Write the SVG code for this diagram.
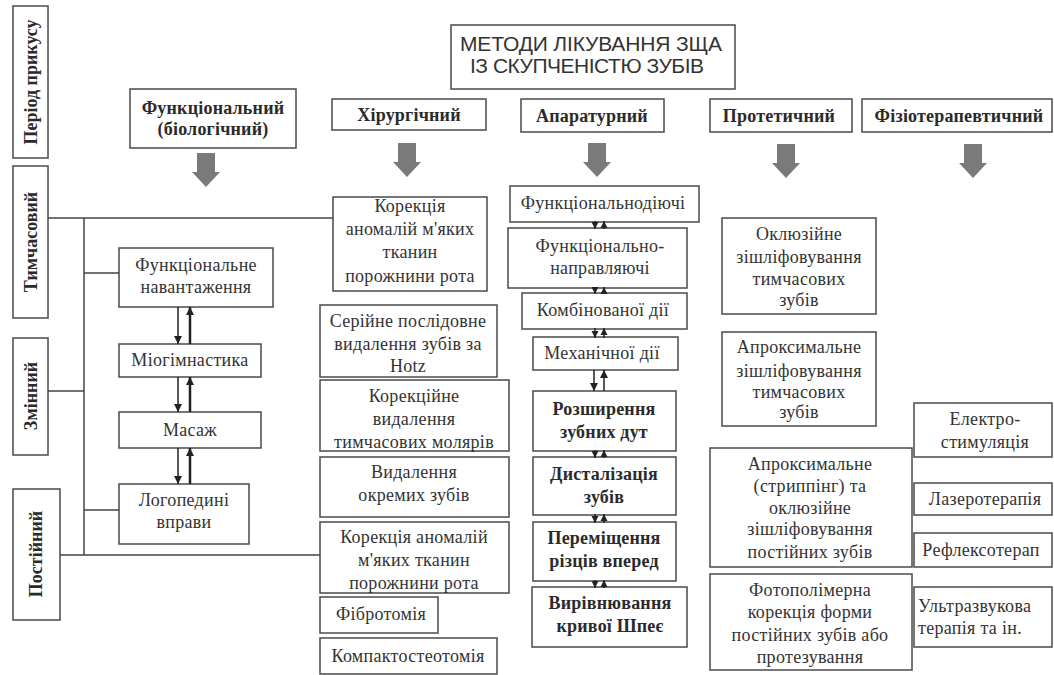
<svg xmlns="http://www.w3.org/2000/svg" width="1054" height="675" viewBox="0 0 1054 675">
<style>
.b{fill:#fff;stroke:#4a4a4a;stroke-width:1.5}
.t{font-family:"Liberation Serif",serif;font-size:18px;fill:#333;text-anchor:middle;letter-spacing:0.3px}
.tb{font-family:"Liberation Serif",serif;font-size:18px;font-weight:bold;fill:#2a2a2a;text-anchor:middle;letter-spacing:0.2px}
.tl{text-anchor:start}
.v{font-family:"Liberation Serif",serif;font-size:18px;font-weight:bold;fill:#2a2a2a;text-anchor:middle}
.ti{font-family:"Liberation Sans",Arial,sans-serif;font-size:21px;fill:#333;text-anchor:middle}
.c{stroke:#444;stroke-width:1.5;fill:none}
.ca{stroke:#222;stroke-width:1.5;fill:none;marker-end:url(#ah)}
.cb{stroke:#222;stroke-width:2.5;fill:none;marker-end:url(#ah)}
.cs{stroke:#222;stroke-width:1.5;fill:none;marker-end:url(#as)}
.big{fill:#7a7a7a}
</style>
<defs>
<marker id="ah" viewBox="0 0 10 10" refX="10" refY="5" markerWidth="8" markerHeight="8" markerUnits="userSpaceOnUse" orient="auto">
<path d="M0,0 L10,5 L0,10 z" fill="#222"/>
</marker>
<marker id="as" viewBox="0 0 10 10" refX="10" refY="5" markerWidth="7" markerHeight="8" markerUnits="userSpaceOnUse" orient="auto">
<path d="M0,0 L10,5 L0,10 z" fill="#222"/>
</marker>
<path id="bigarrow" d="M-9,0 H9 V19 H14 L0,34 L-14,19 H-9 Z"/>
</defs>
<rect width="1054" height="675" fill="#fff"/>

<g id="period">
<rect class="b" x="13" y="6" width="35" height="152"/>
<text class="v" transform="translate(37,82) rotate(-90)">Період прикусу</text>
</g>
<g id="tymchasovyi">
<rect class="b" x="13" y="166" width="35" height="152"/>
<text class="v" transform="translate(37,242) rotate(-90)">Тимчасовий</text>
</g>
<g id="zminnyi">
<rect class="b" x="13" y="338" width="35" height="117"/>
<text class="v" transform="translate(37,396) rotate(-90)">Змінний</text>
</g>
<g id="postiinyi">
<rect class="b" x="13" y="489" width="47" height="131"/>
<text class="v" transform="translate(42,554) rotate(-90)">Постійний</text>
</g>

<g id="title">
<rect class="b" x="451" y="25" width="284" height="64"/>
<text class="ti" x="591" y="51" textLength="262">МЕТОДИ ЛІКУВАННЯ ЗЩА</text>
<text class="ti" x="587" y="73" textLength="234">ІЗ СКУПЧЕНІСТЮ ЗУБІВ</text>
</g>

<g id="funktsionalnyi">
<rect class="b" x="130" y="89" width="166" height="59"/>
<text class="tb" x="213" y="114">Функціональний</text>
<text class="tb" x="213" y="135">(біологічний)</text>
</g>
<g id="khirurhichnyi">
<rect class="b" x="332" y="99" width="154" height="31"/>
<text class="tb" x="409" y="121">Хірургічний</text>
</g>
<g id="aparaturnyi">
<rect class="b" x="521" y="99" width="143" height="33"/>
<text class="tb" x="592" y="122">Апаратурний</text>
</g>
<g id="protetychnyi">
<rect class="b" x="710" y="99" width="142" height="33"/>
<text class="tb" x="779" y="122">Протетичний</text>
</g>
<g id="fizio">
<rect class="b" x="862" y="99" width="190" height="33"/>
<text class="tb" x="959" y="122">Фізіотерапевтичний</text>
</g>

<g id="funk-navantazhennia">
<rect class="b" x="119" y="248" width="154" height="59"/>
<text class="t" x="196" y="271">Функціональне</text>
<text class="t" x="196" y="293">навантаження</text>
</g>
<g id="miohimnastyka">
<rect class="b" x="119" y="344" width="142" height="33"/>
<text class="t" x="190" y="366">Міогімнастика</text>
</g>
<g id="masazh">
<rect class="b" x="119" y="412" width="142" height="36"/>
<text class="t" x="190" y="436">Масаж</text>
</g>
<g id="lohopedychni">
<rect class="b" x="119" y="484" width="130" height="60"/>
<text class="t" x="184" y="506">Логопедині</text>
<text class="t" x="184" y="528">вправи</text>
</g>

<g id="korektsiia-1">
<rect class="b" x="333" y="197" width="154" height="94"/>
<text class="t" x="410" y="212">Корекція</text>
<text class="t" x="410" y="235">аномалій м'яких</text>
<text class="t" x="410" y="258">тканин</text>
<text class="t" x="410" y="282">порожнини рота</text>
</g>
<g id="seriine">
<rect class="b" x="320" y="305" width="177" height="72"/>
<text class="t" x="408" y="327">Серійне послідовне</text>
<text class="t" x="408" y="350">видалення зубів за</text>
<text class="t" x="408" y="372">Hotz</text>
</g>
<g id="korektsiine">
<rect class="b" x="320" y="380" width="189" height="71"/>
<text class="t" x="414" y="402">Корекційне</text>
<text class="t" x="414" y="425">видалення</text>
<text class="t" x="414" y="448">тимчасових молярів</text>
</g>
<g id="vydalennia">
<rect class="b" x="320" y="457" width="189" height="60"/>
<text class="t" x="414" y="478">Видалення</text>
<text class="t" x="414" y="501">окремих зубів</text>
</g>
<g id="korektsiia-2">
<rect class="b" x="320" y="522" width="189" height="71"/>
<text class="t" x="414" y="543">Корекція аномалій</text>
<text class="t" x="414" y="566">м'яких тканин</text>
<text class="t" x="414" y="589">порожнини рота</text>
</g>
<g id="fibrotomiia">
<rect class="b" x="320" y="597" width="118" height="36"/>
<text class="t" x="381" y="620">Фібротомія</text>
</g>
<g id="kompaktosteotomiia">
<rect class="b" x="320" y="638" width="177" height="36"/>
<text class="t" x="408" y="662">Компактостеотомія</text>
</g>

<g id="funk-diiuchi">
<rect class="b" x="510" y="186" width="189" height="36"/>
<text class="t" x="603" y="209">Функціональнодіючі</text>
</g>
<g id="funk-napravliaiuchi">
<rect class="b" x="508" y="228" width="179" height="60"/>
<text class="t" x="600" y="252">Функціонально-</text>
<text class="t" x="600" y="274">направляючі</text>
</g>
<g id="kombinovanoi">
<rect class="b" x="522" y="293" width="165" height="36"/>
<text class="t" x="603" y="316">Комбінованої дії</text>
</g>
<g id="mekhanichnoi">
<rect class="b" x="533" y="337" width="145" height="33"/>
<text class="t" x="602" y="359">Механічної дії</text>
</g>
<g id="rozshyrennia">
<rect class="b" x="533" y="391" width="143" height="60"/>
<text class="tb" x="604" y="415">Розширення</text>
<text class="tb" x="604" y="438">зубних дут</text>
</g>
<g id="dystalizatsiia">
<rect class="b" x="533" y="457" width="143" height="58"/>
<text class="tb" x="604" y="480">Дисталізація</text>
<text class="tb" x="604" y="503">зубів</text>
</g>
<g id="peremishchennia">
<rect class="b" x="533" y="522" width="143" height="59"/>
<text class="tb" x="604" y="544">Переміщення</text>
<text class="tb" x="604" y="567">різців вперед</text>
</g>
<g id="vyrivniuvannia">
<rect class="b" x="532" y="587" width="155" height="60"/>
<text class="tb" x="610" y="609">Вирівнювання</text>
<text class="tb" x="610" y="632">кривої Шпеє</text>
</g>

<g id="okliuziine">
<rect class="b" x="722" y="218" width="154" height="96"/>
<text class="t" x="799" y="240">Оклюзійне</text>
<text class="t" x="799" y="263">зішліфовування</text>
<text class="t" x="799" y="285">тимчасових</text>
<text class="t" x="799" y="306">зубів</text>
</g>
<g id="aproksymalne-1">
<rect class="b" x="722" y="332" width="154" height="94"/>
<text class="t" x="799" y="353">Апроксимальне</text>
<text class="t" x="799" y="377">зішліфовування</text>
<text class="t" x="799" y="398">тимчасових</text>
<text class="t" x="799" y="418">зубів</text>
</g>
<g id="aproksymalne-2">
<rect class="b" x="710" y="448" width="202" height="119"/>
<text class="t" x="810" y="470">Апроксимальне</text>
<text class="t" x="810" y="492">(стриппінг) та</text>
<text class="t" x="810" y="514">оклюзійне</text>
<text class="t" x="810" y="535">зішліфовування</text>
<text class="t" x="810" y="558">постійних  зубів</text>
</g>
<g id="fotopolimerna">
<rect class="b" x="710" y="574" width="202" height="96"/>
<text class="t" x="810" y="596">Фотополімерна</text>
<text class="t" x="810" y="618">корекція форми</text>
<text class="t" x="810" y="641">постійних зубів або</text>
<text class="t" x="810" y="663">протезування</text>
</g>

<g id="elektro">
<rect class="b" x="914" y="403" width="138" height="54"/>
<text class="t" x="985" y="425">Електро-</text>
<text class="t" x="985" y="448">стимуляція</text>
</g>
<g id="lazero">
<rect class="b" x="914" y="483" width="138" height="32"/>
<text class="t" x="985" y="505">Лазеротерапія</text>
</g>
<g id="reflekso">
<rect class="b" x="914" y="533" width="138" height="34"/>
<text class="t" x="981" y="556">Рефлексотерап</text>
</g>
<g id="ultrazvuk">
<rect class="b" x="914" y="587" width="138" height="60"/>
<text class="t tl" x="918" y="612">Ультразвукова</text>
<text class="t tl" x="918" y="634">терапія та ін.</text>
</g>

<g id="connectors">
<line class="c" x1="48" y1="218" x2="333" y2="218"/>
<line class="c" x1="84" y1="218" x2="84" y2="555"/>
<line class="c" x1="84" y1="273" x2="119" y2="273"/>
<line class="c" x1="48" y1="391" x2="84" y2="391"/>
<line class="c" x1="84" y1="510" x2="119" y2="510"/>
<line class="c" x1="60" y1="555" x2="320" y2="555"/>
<line class="ca" x1="178" y1="307" x2="178" y2="344"/>
<line class="cb" x1="190" y1="344" x2="190" y2="307"/>
<line class="ca" x1="178" y1="377" x2="178" y2="412"/>
<line class="cb" x1="190" y1="412" x2="190" y2="377"/>
<line class="ca" x1="178" y1="448" x2="178" y2="484"/>
<line class="cb" x1="190" y1="484" x2="190" y2="448"/>
<line class="cs" x1="595" y1="221" x2="595" y2="229"/>
<line class="cs" x1="604" y1="229" x2="604" y2="221"/>
<line class="cs" x1="595" y1="287" x2="595" y2="294"/>
<line class="cs" x1="604" y1="294" x2="604" y2="287"/>
<line class="cs" x1="595" y1="328" x2="595" y2="338"/>
<line class="cs" x1="604" y1="338" x2="604" y2="328"/>
<line class="ca" x1="594" y1="370" x2="594" y2="391"/>
<line class="ca" x1="604" y1="391" x2="604" y2="370"/>
<line class="cs" x1="595" y1="450" x2="595" y2="458"/>
<line class="cs" x1="604" y1="458" x2="604" y2="450"/>
<line class="cs" x1="595" y1="514" x2="595" y2="523"/>
<line class="cs" x1="604" y1="523" x2="604" y2="514"/>
<line class="cs" x1="595" y1="580" x2="595" y2="588"/>
<line class="cs" x1="604" y1="588" x2="604" y2="580"/>
<use href="#bigarrow" class="big" x="206" y="153"/>
<use href="#bigarrow" class="big" x="407" y="143"/>
<use href="#bigarrow" class="big" x="597" y="143"/>
<use href="#bigarrow" class="big" x="786" y="144"/>
<use href="#bigarrow" class="big" x="973" y="144"/>
</g>
</svg>
